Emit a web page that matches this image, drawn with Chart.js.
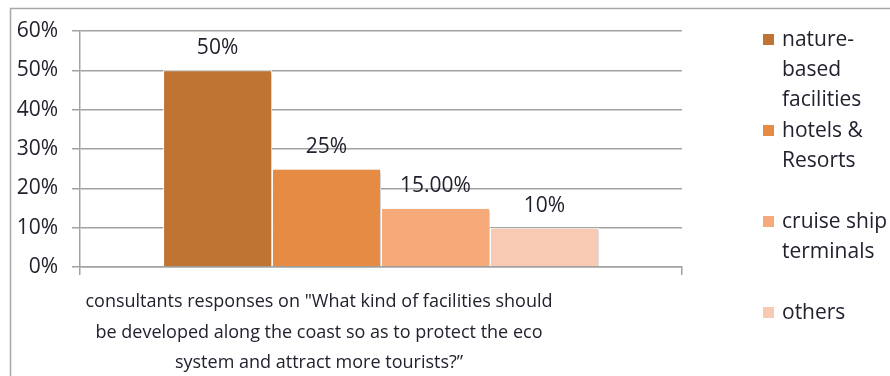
<!DOCTYPE html>
<html>
<head>
<meta charset="utf-8">
<script src="https://cdn.jsdelivr.net/npm/chart.js@4/dist/chart.umd.min.js"></script>
<style>
  html, body { margin: 0; padding: 0; background: #fff; }
  #wrap { width: 890px; height: 376px; }
</style>
</head>
<body>
<div id="wrap"><canvas id="facilityChart" width="890" height="376"></canvas></div>
<script>
// question asked to the consultants (shown as the single category, one line per row)
var categories = [[
    'consultants responses on "What kind of facilities should',
    'be developed along the coast so as to protect the eco',
    'system and attract more tourists?\u201d'
]];

var seriesNames = [
    ['nature-', 'based', 'facilities'],
    ['hotels &', 'Resorts'],
    ['cruise ship', 'terminals'],
    ['others']
];

// share of responses, in percent
var responses = [50, 25, 15, 10];
var labelDecimals = [0, 0, 2, 0];

var yTicks = [0, 10, 20, 30, 40, 50, 60];

var barColors = ['#c07434', '#e68b43', '#f6aa7a', '#f8c9b3'];

var textColor = '#22222f';
var lineColor = '#a2a2a2';
var fontFamily = '"Open Sans", sans-serif';

// frame around the whole figure
var framePlugin = {
    id: 'frame',
    beforeDraw: function (chart) {
        var ctx = chart.ctx;
        ctx.save();
        ctx.fillStyle = '#fff';
        ctx.fillRect(0, 0, chart.width, chart.height);
        ctx.strokeStyle = '#a8a8a8';
        ctx.lineWidth = 1.5;
        ctx.strokeRect(10.5, 8.5, chart.width, chart.height);
        ctx.restore();
    }
};

// soft shadow behind the bars
var shadowPlugin = {
    id: 'barShadow',
    beforeDatasetsDraw: function (chart) {
        var ctx = chart.ctx;
        ctx.save();
        ctx.shadowColor = 'rgba(0,0,0,0.22)';
        ctx.shadowBlur = 3;
        ctx.shadowOffsetX = 2;
        ctx.shadowOffsetY = 1;
    },
    afterDatasetsDraw: function (chart) {
        chart.ctx.restore();
    }
};

// value text over each bar
var valueLabels = {
    id: 'valueLabels',
    afterDatasetsDraw: function (chart) {
        var ctx = chart.ctx;
        ctx.save();
        ctx.font = '21px ' + fontFamily;
        ctx.fillStyle = textColor;
        ctx.textAlign = 'center';
        ctx.textBaseline = 'middle';
        chart.data.datasets.forEach(function (ds, i) {
            var bar = chart.getDatasetMeta(i).data[0];
            ctx.fillText(ds.data[0].toFixed(labelDecimals[i]) + '%', bar.x, bar.y - 22);
        });
        ctx.restore();
    }
};

// legend on the right, labels wrapped over several lines
var sideLegend = {
    id: 'sideLegend',
    afterDraw: function (chart) {
        var ctx = chart.ctx;
        var x = chart.chartArea.right + 81;
        var y = chart.chartArea.top + 9;
        ctx.save();
        ctx.font = '21px ' + fontFamily;
        ctx.textBaseline = 'middle';
        chart.data.datasets.forEach(function (ds, i) {
            ctx.fillStyle = ds.backgroundColor;
            ctx.fillRect(x, y + i * 91 - 6, 11, 11);
            ctx.fillStyle = textColor;
            ds.label.forEach(function (line, k) {
                ctx.fillText(line, x + 19, y + i * 91 + k * 30);
            });
        });
        ctx.restore();
    }
};

var ctx = document.getElementById('facilityChart').getContext('2d');
var chart = new Chart(ctx, {
    type: 'bar',
    data: {
        labels: categories,
        datasets: responses.map(function (v, i) {
            return {
                label: seriesNames[i],
                data: [v],
                backgroundColor: barColors[i],
                borderColor: '#ffffff',
                borderWidth: 1
            };
        })
    },
    options: {
        responsive: false,
        animation: false,
        layout: { padding: { left: 0, top: 31, right: 208, bottom: 0 } },
        datasets: {
            bar: { categoryPercentage: 0.724, barPercentage: 1.0 }
        },
        plugins: {
            legend: { display: false },
            tooltip: { enabled: false }
        },
        scales: {
            x: {
                afterFit: function (scale) { scale.height = 109; },
                grid: {
                    offset: true,
                    drawOnChartArea: false,
                    drawTicks: true,
                    tickLength: 8,
                    color: lineColor,
                    lineWidth: 1.5
                },
                border: { display: true, color: lineColor, width: 1.5 },
                ticks: {
                    color: textColor,
                    font: { family: fontFamily, size: 18, lineHeight: 1.69 },
                    padding: 12,
                    maxRotation: 0,
                    autoSkip: false,
                    labelOffset: -62
                }
            },
            y: {
                min: 0,
                max: 60,
                afterFit: function (scale) { scale.width = 80; },
                afterBuildTicks: function (scale) {
                    scale.ticks = yTicks.map(function (v) { return { value: v }; });
                },
                grid: {
                    color: lineColor,
                    lineWidth: 1.5,
                    drawTicks: true,
                    tickLength: 8
                },
                border: { display: true, color: lineColor, width: 1.5 },
                ticks: {
                    color: textColor,
                    font: { family: fontFamily, size: 21 },
                    padding: 14,
                    callback: function (v) { return v + '%'; }
                }
            }
        }
    },
    plugins: [framePlugin, shadowPlugin, valueLabels, sideLegend]
});
</script>
</body>
</html>
